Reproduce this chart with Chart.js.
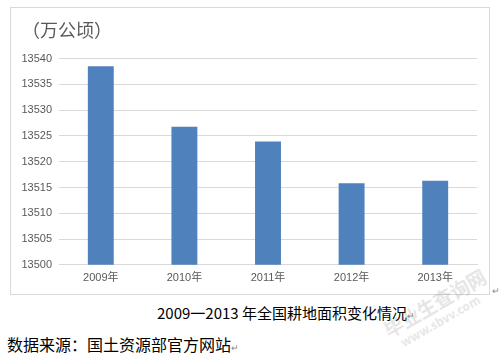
<!DOCTYPE html>
<html>
<head>
<meta charset="utf-8">
<script src="https://cdn.jsdelivr.net/npm/chart.js@4/dist/chart.umd.min.js"></script>
<style>
  html, body { margin: 0; padding: 0; background: #fff; width: 504px; height: 358px; overflow: hidden; }
  #box { position: absolute; left: 10px; top: 7px; width: 478px; height: 286px; border: 1px solid #d9d9d9; }
  .cap { position: absolute; white-space: nowrap; color: #000; font-family: "Noto Sans CJK SC", sans-serif; }
  .pm { color: #888; font-size: 9px; }
  #wm { position: absolute; left: 380px; top: 322px; transform: rotate(-30deg); transform-origin: left top;
        color: rgba(120,120,120,0.2); font-family: "Noto Sans CJK SC", sans-serif; font-weight: bold; white-space: nowrap; }
</style>
</head>
<body>
<div id="box"><canvas id="c"></canvas></div>
<div class="cap" style="left:157px; top:302px; font-size:15px;">2009一2013 年全国耕地面积变化情况<span class="pm">↵</span></div>
<div class="cap" style="left:7px; top:332px; font-size:16px;">数据来源：国土资源部官方网站<span class="pm">↵</span></div>
<div class="cap pm" style="left:492px; top:284px;">↵</div>
<div id="wm"><div style="font-size:19px; line-height:22px;">毕业生查询网</div><div style="font-size:12px; line-height:14px; margin-left:8px;">www.sbvv.com</div></div>
<script>
const categories = ["2009年", "2010年", "2011年", "2012年", "2013年"];
const areaValues = [13538.5, 13526.8, 13523.9, 13515.8, 13516.3];
const unitLabel = "（万公顷）";
const yMin = 13500, yMax = 13540, yStep = 5;

const textColor = "#595959";
new Chart(document.getElementById("c"), {
  type: "bar",
  data: {
    labels: categories,
    datasets: [{
      data: areaValues,
      backgroundColor: "#4f81bd",
      borderWidth: 0,
      barPercentage: 0.31,
      categoryPercentage: 1
    }]
  },
  options: {
    responsive: true,
    maintainAspectRatio: false,
    animation: false,
    layout: { padding: { left: 11, right: 12, top: 0, bottom: 2 } },
    plugins: {
      legend: { display: false },
      tooltip: { enabled: false },
      title: {
        display: true,
        text: unitLabel,
        align: "start",
        color: textColor,
        font: { family: "'Noto Sans CJK SC', sans-serif", size: 18, weight: "normal" },
        padding: { top: 11, bottom: 18 }
      }
    },
    scales: {
      x: {
        grid: { display: false, drawTicks: false },
        border: { display: true, color: "#d9d9d9" },
        ticks: { color: textColor, padding: 7, font: { family: "'Liberation Sans', 'Noto Sans CJK SC', sans-serif", size: 11 } }
      },
      y: {
        min: yMin, max: yMax,
        grid: { color: "#d9d9d9", drawTicks: false },
        border: { display: false },
        ticks: {
          stepSize: yStep, color: textColor, padding: 7,
          font: { family: "'Liberation Sans', sans-serif", size: 11 },
          callback: (v) => String(v)
        },
        afterFit: (s) => { s.width = 37; }
      }
    }
  }
});
</script>
</body>
</html>
